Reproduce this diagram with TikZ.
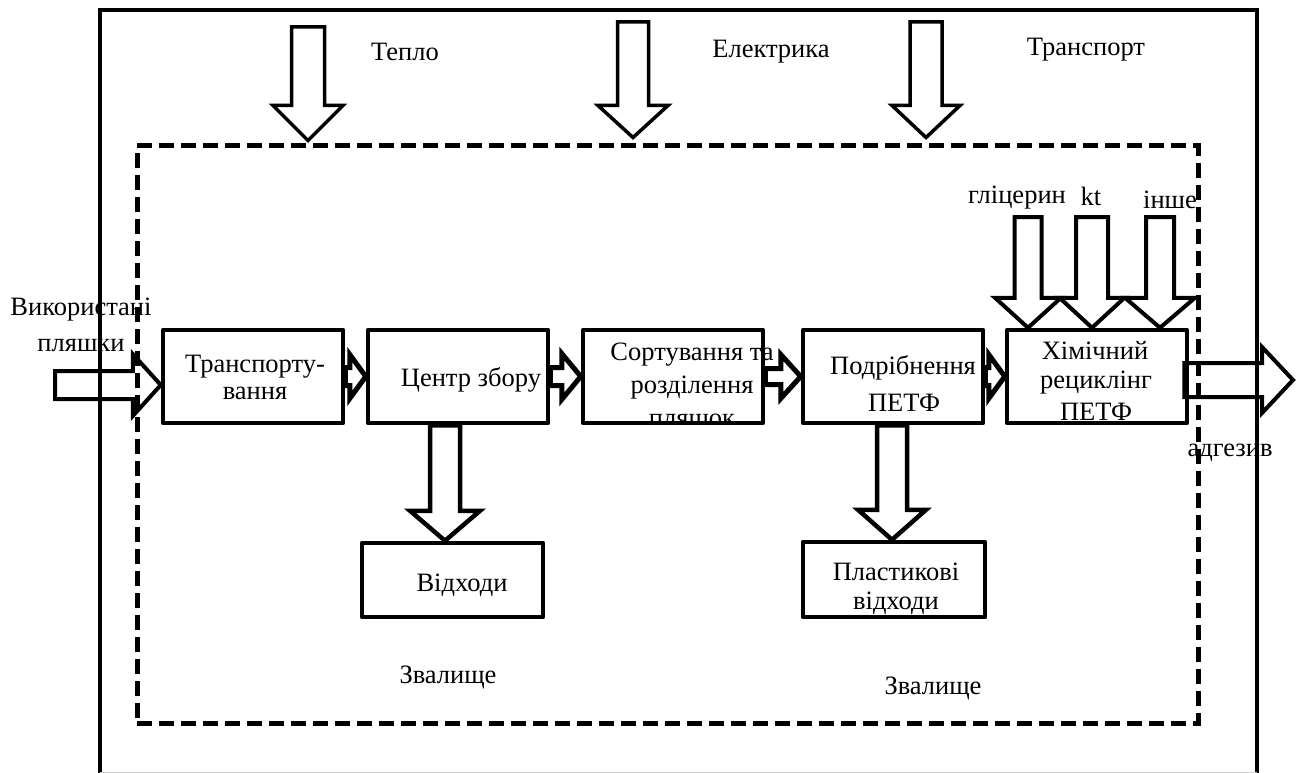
\documentclass[tikz,border=0pt]{standalone}
\usepackage{fontspec}
\setmainfont{Liberation Serif}
\usetikzlibrary{calc}

\tikzset{
  box/.style={draw, line width=4.5pt, line join=round, inner sep=0pt},
  zonebox/.style={draw, line width=5pt, dash pattern=on 15pt off 7pt, inner sep=0pt},
  arrowline/.style={draw, line width=4pt, line join=miter},
  thinarrow/.style={line width=3.5pt},
  linkarrow/.style={line width=5pt},
  lbl/.style={inner sep=0pt, font=\fontsize{26.5pt}{30pt}\selectfont},
}

% horizontal block arrow: [options]{tail}{tip}{shaft half-width}{head half-width}{head length}
\newcommand\hblock[6][]{%
  \draw[arrowline,#1] let \p1=(#2), \p2=(#3) in
    (\x1,\y1+#4pt) -- (\x2-#6pt,\y1+#4pt) -- (\x2-#6pt,\y1+#5pt) -- (\x2,\y1)
    -- (\x2-#6pt,\y1-#5pt) -- (\x2-#6pt,\y1-#4pt) -- (\x1,\y1-#4pt) -- cycle;}
% downward block arrow: [options]{tail}{tip}{shaft half-width}{head half-width}{head length}
\newcommand\vblock[6][]{%
  \draw[arrowline,#1] let \p1=(#2), \p2=(#3) in
    (\x1-#4pt,\y1) -- (\x1-#4pt,\y2+#6pt) -- (\x1-#5pt,\y2+#6pt) -- (\x1,\y2)
    -- (\x1+#5pt,\y2+#6pt) -- (\x1+#4pt,\y2+#6pt) -- (\x1+#4pt,\y1) -- cycle;}

\begin{document}
\begin{tikzpicture}[x=1pt,y=-1pt]
\useasboundingbox (0,0) rectangle (1299,773);
\clip (0,0) rectangle (1299,773);

% outer frame (its lower edge runs past the sheet)
\draw[line width=4.5pt] (100,800) -- (100,10) -- (1257,10) -- (1257,800);
\draw[gray!35, line width=1pt] (100,772.5) -- (1257,772.5);

% dashed system boundary
\node[zonebox, minimum width=1061pt, minimum height=577pt] (zone) at (667.5,434.5) {};

% process boxes
\node[box, minimum width=180pt, minimum height=93pt] (b1) at (253,376.5) {};
\node[box, minimum width=180pt, minimum height=93pt] (b2) at (458,376.5) {};
\node[box, minimum width=180pt, minimum height=93pt] (b3) at (673,376.5) {};
\node[box, minimum width=180pt, minimum height=93pt] (b4) at (893,376.5) {};
\node[box, minimum width=180pt, minimum height=93pt] (b5) at (1097,376.5) {};
\node[box, minimum width=181pt, minimum height=74pt] (b6) at (452.5,580) {};
\node[box, minimum width=182pt, minimum height=75pt] (b7) at (894,579.5) {};

% box texts
\node[lbl] (t1a) at (255,367) {Транспорту-};
\node[lbl] (t1b) at (255,393) {вання};
\node[lbl] (t2) at (471,380) {Центр збору};
\node[lbl] (t3a) at (692,355) {Сортування та};
\node[lbl] (t3b) at (692,388) {розділення};
\begin{scope}
  \clip ($(b3.south west)+(2.25,-2.25)$) rectangle (b3.north east);
  \node[lbl] (t3c) at (692,420) {пляшок};
\end{scope}
\node[lbl] (t4a) at (903,368) {Подрібнення};
\node[lbl] (t4b) at (904,403) {ПЕТФ};
\node[lbl] (t5a) at (1095,350) {Хімічний};
\node[lbl] (t5b) at (1096,383) {рециклінг};
\node[lbl] (t5c) at (1096,412) {ПЕТФ};
\node[lbl] (t6) at (462,585) {Відходи};
\node[lbl] (t7a) at (896,572) {Пластикові};
\begin{scope}
  \clip ($(b7.south west)+(2.25,-2.25)$) rectangle (b7.north east);
  \node[lbl] (t7b) at (896,603) {відходи};
\end{scope}

% free labels
\node[lbl] (heat) at (405,52) {Тепло};
\node[lbl] (elec) at (771,52) {Електрика};
\node[lbl] (trans) at (1086,50) {Транспорт};
\node[lbl] (used1) at (81,310) {Використані};
\node[lbl] (used2) at (81,346) {пляшки};
\node[lbl] (glyc) at (1017,198) {гліцерин};
\node[lbl] (kt) at (1091,196) {kt};
\node[lbl] (other) at (1170,200) {інше};
\node[lbl] (adh) at (1230,453) {адгезив};
\node[lbl] (dump1) at (448,677) {Звалище};
\node[lbl] (dump2) at (933,688) {Звалище};

% tails of the free arrows
\coordinate (s1) at (308,27);
\coordinate (s2) at (633,22);
\coordinate (s3) at (926,22);
\coordinate (inp) at (55,385);
\coordinate (out) at (1293,380);
\coordinate (g1) at (1028,217);
\coordinate (g2) at (1092,217);
\coordinate (g3) at (1160,217);
\coordinate (d1) at ($(b2.south)+(-13,0)$);
\coordinate (d2) at ($(b4.south)+(-1,0)$);

% resources entering the system
\vblock[thinarrow]{s1}{$(zone.north -| s1)+(0,-3)$}{16.5}{35}{35}
\vblock[thinarrow]{s2}{$(zone.north -| s2)+(0,-6)$}{15.5}{35}{32}
\vblock[thinarrow]{s3}{$(zone.north -| s3)+(0,-6)$}{16}{34}{32}

% main flow
\hblock{inp}{b1.west |- inp}{14}{31}{28}
\hblock[linkarrow]{b1.east}{b2.west}{9}{22}{16}
\hblock[linkarrow]{b2.east}{b3.west}{9}{23}{19}
\hblock[linkarrow]{b3.east}{b4.west}{8}{22}{20}
\hblock[linkarrow]{b4.east}{b5.west}{9}{22}{16}
\hblock{$(b5.east |- out)+(-5,0)$}{out}{17}{33}{31}

% reagents for chemical recycling
\vblock{g1}{b5.north -| g1}{13.5}{33}{30}
\vblock{g2}{b5.north -| g2}{16}{32.5}{30}
\vblock{g3}{b5.north -| g3}{14}{35}{30}

% waste streams
\vblock[line width=4.5pt]{d1}{b6.north -| d1}{15}{35}{30}
\vblock[line width=4.5pt]{d2}{b7.north -| d2}{15}{34}{30}
\end{tikzpicture}
\end{document}
